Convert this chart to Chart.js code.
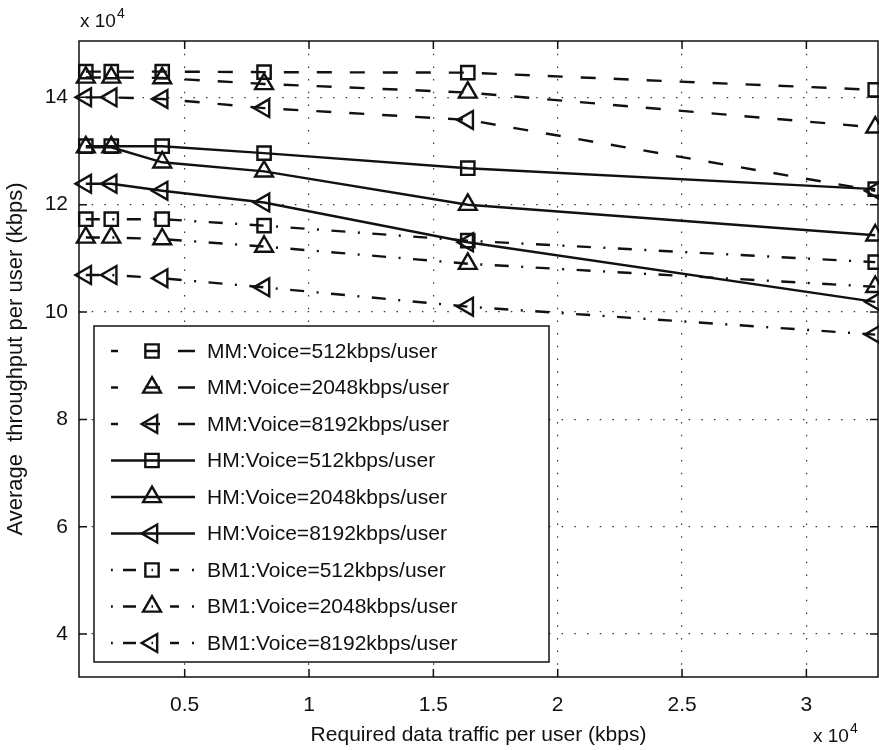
<!DOCTYPE html>
<html>
<head>
<meta charset="utf-8">
<script src="https://cdn.jsdelivr.net/npm/chart.js@4.4.0/dist/chart.umd.min.js"></script>
<style>
    html, body { margin: 0; padding: 0; background: #fff; overflow: hidden; }
    canvas { display: block; }
</style>
</head>
<body>
<canvas id="myChart" width="879" height="750"></canvas>
<script>
const traffic = [1024, 2048, 4096, 8192, 16384, 32768];

const mm512  = [144800, 144800, 144800, 144700, 144600, 141400];
const mm2048 = [143700, 143700, 143600, 142500, 140900, 134400];
const mm8192 = [140000, 140000, 139700, 138000, 135800, 122600];
const hm512  = [130900, 130900, 130900, 129600, 126800, 122900];
const hm2048 = [130700, 130700, 127900, 126200, 120000, 114300];
const hm8192 = [123900, 123900, 122600, 120400, 113000, 101900];
const bm512  = [117300, 117300, 117300, 116100, 113300, 109300];
const bm2048 = [113900, 113900, 113600, 112200, 109000, 104700];
const bm8192 = [106900, 106900, 106300, 104600, 101000, 95800];

const labels = [
    'MM:Voice=512kbps/user', 'MM:Voice=2048kbps/user', 'MM:Voice=8192kbps/user',
    'HM:Voice=512kbps/user', 'HM:Voice=2048kbps/user', 'HM:Voice=8192kbps/user',
    'BM1:Voice=512kbps/user', 'BM1:Voice=2048kbps/user', 'BM1:Voice=8192kbps/user'
];
const values = [mm512, mm2048, mm8192, hm512, hm2048, hm8192, bm512, bm2048, bm8192];

const xTicks = [5000, 10000, 15000, 20000, 25000, 30000];
const xTickLabels = ['0.5', '1', '1.5', '2', '2.5', '3'];
const yTicks = [40000, 60000, 80000, 100000, 120000, 140000];
const yTickLabels = ['4', '6', '8', '10', '12', '14'];

const FONT = "'Liberation Sans', Arial, Helvetica, sans-serif";
const INK = '#111';

// line styles: 0 dashed, 1 solid, 2 dash-dot ; markers: square, up, left
const dashes = [[15, 18], [], [14, 12.5, 2, 12.5]];
const markers = [
    { pointStyle: 'rect', rotation: 0, radius: 9.4 },
    { pointStyle: 'triangle', rotation: 0, radius: 10.3 },
    { pointStyle: 'triangle', rotation: -90, radius: 10.3 }
];
// legend sample segments (px from sample start), sample is 84px long
const sampleSegs = [
    [[0, 7], [34, 49], [67, 84]],
    [[0, 84]],
    [[0, 1.8], [12, 25], [40.5, 42], [59, 68], [81, 83]]
];

const datasets = values.map((vals, i) => {
    const m = markers[i % 3];
    return {
        label: labels[i],
        data: traffic.map((x, j) => ({ x: x, y: vals[j] })),
        borderColor: INK,
        borderWidth: 2.4,
        borderDash: dashes[Math.floor(i / 3)],
        tension: 0,
        fill: false,
        clip: false,
        pointStyle: m.pointStyle,
        pointRotation: m.rotation,
        pointRadius: m.radius,
        pointHoverRadius: m.radius,
        pointBorderWidth: 2.4,
        pointBorderColor: INK,
        pointBackgroundColor: 'rgba(0,0,0,0)'
    };
});

function drawExp(ctx, x, y) {
    ctx.save();
    ctx.fillStyle = INK;
    ctx.textAlign = 'left';
    ctx.textBaseline = 'alphabetic';
    ctx.font = '19px ' + FONT;
    ctx.fillText('x 10', x, y);
    const w = ctx.measureText('x 10').width;
    ctx.font = '14px ' + FONT;
    ctx.fillText('4', x + w + 1, y - 9);
    ctx.restore();
}

const frame = {
    id: 'frame',
    afterDraw(chart) {
        const ctx = chart.ctx;
        const a = chart.chartArea;
        const xs = chart.scales.x, ys = chart.scales.y;
        ctx.save();
        ctx.strokeStyle = INK;
        ctx.lineWidth = 1.5;
        ctx.setLineDash([]);
        ctx.strokeRect(a.left, a.top, a.right - a.left, a.bottom - a.top);
        // inward ticks on all four sides
        ctx.beginPath();
        xTicks.forEach(v => {
            const px = xs.getPixelForValue(v);
            ctx.moveTo(px, a.bottom); ctx.lineTo(px, a.bottom - 8);
            ctx.moveTo(px, a.top); ctx.lineTo(px, a.top + 8);
        });
        yTicks.forEach(v => {
            const py = ys.getPixelForValue(v);
            ctx.moveTo(a.left, py); ctx.lineTo(a.left + 8, py);
            ctx.moveTo(a.right, py); ctx.lineTo(a.right - 8, py);
        });
        ctx.stroke();

        // legend box
        const lx = a.left + 15, ly = a.top + 285, lw = 455, lh = 336;
        ctx.fillStyle = '#fff';
        ctx.fillRect(lx, ly, lw, lh);
        ctx.lineWidth = 1.5;
        ctx.strokeRect(lx, ly, lw, lh);
        ctx.font = '21px ' + FONT;
        ctx.textBaseline = 'middle';
        ctx.textAlign = 'left';
        labels.forEach((lab, i) => {
            const cy = ly + 25 + i * 36.5;
            const sx = lx + 17;
            ctx.strokeStyle = INK;
            ctx.lineWidth = 2.4;
            ctx.beginPath();
            sampleSegs[Math.floor(i / 3)].forEach(s => {
                ctx.moveTo(sx + s[0], cy); ctx.lineTo(sx + s[1], cy);
            });
            ctx.stroke();
            const m = markers[i % 3];
            ctx.fillStyle = 'rgba(0,0,0,0)';
            Chart.helpers.drawPoint(ctx, {
                pointStyle: m.pointStyle, rotation: m.rotation,
                radius: m.radius, borderWidth: 2.4
            }, sx + 41, cy);
            ctx.fillStyle = INK;
            ctx.fillText(lab, lx + 113, cy + 1);
        });
        ctx.restore();

        drawExp(ctx, a.left + 1, 27);
        drawExp(ctx, 813, 742);
    }
};

new Chart(document.getElementById('myChart'), {
    type: 'line',
    data: { datasets: datasets },
    plugins: [frame],
    options: {
        responsive: false,
        animation: false,
        events: [],
        layout: { autoPadding: false, padding: { top: 41, right: 1, left: 0, bottom: 0 } },
        plugins: {
            legend: { display: false },
            tooltip: { enabled: false }
        },
        scales: {
            x: {
                type: 'linear',
                min: 750,
                max: 32880,
                afterBuildTicks: scale => { scale.ticks = xTicks.map(v => ({ value: v })); },
                afterFit: scale => {
                    scale.height = 73;
                    scale.paddingLeft = 0;
                    scale.paddingRight = 0;
                },
                ticks: {
                    autoSkip: false,
                    maxRotation: 0,
                    padding: 16,
                    color: INK,
                    font: { family: FONT, size: 21 },
                    callback: v => xTickLabels[xTicks.indexOf(v)]
                },
                grid: { drawTicks: false, color: '#333', lineWidth: 1.2 },
                border: { display: false, dash: [1.5, 11.2] },
                title: {
                    display: true,
                    text: 'Required data traffic per user (kbps)',
                    color: INK,
                    font: { family: FONT, size: 21 },
                    padding: { top: 0, bottom: 2 }
                }
            },
            y: {
                type: 'linear',
                min: 32000,
                max: 150500,
                afterBuildTicks: scale => { scale.ticks = yTicks.map(v => ({ value: v })); },
                afterFit: scale => {
                    scale.width = 79;
                    scale.paddingTop = 0;
                    scale.paddingBottom = 0;
                },
                ticks: {
                    autoSkip: false,
                    padding: 11,
                    color: INK,
                    font: { family: FONT, size: 21 },
                    callback: v => yTickLabels[yTicks.indexOf(v)]
                },
                grid: { drawTicks: false, color: '#333', lineWidth: 1.2 },
                border: { display: false, dash: [1.5, 11.2] },
                title: {
                    display: true,
                    text: 'Average  throughput per user (kbps)',
                    color: INK,
                    font: { family: FONT, size: 22 },
                    padding: { top: 3, bottom: 0 }
                }
            }
        }
    }
});
</script>
</body>
</html>
